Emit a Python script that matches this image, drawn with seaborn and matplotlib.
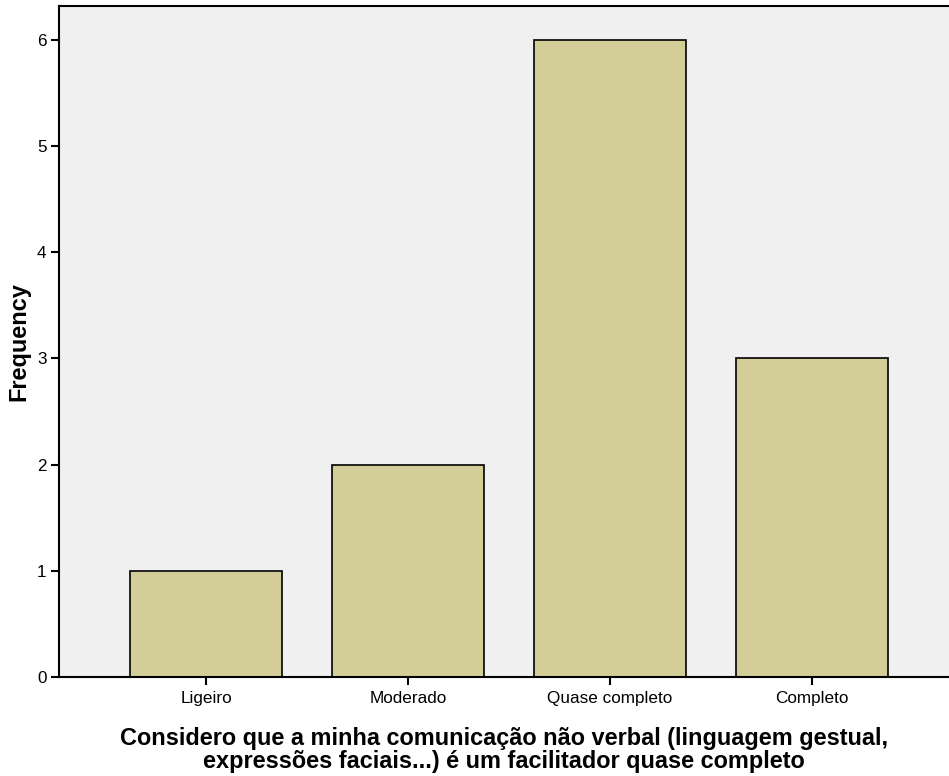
import matplotlib.pyplot as plt
import seaborn as sns
import pandas as pd

categories = ["Ligeiro", "Moderado", "Quase completo", "Completo"]
frequencies = [1, 2, 6, 3]

sns.set_theme(style="white")
plt.rcParams['font.family'] = ['Liberation Sans', 'DejaVu Sans']
plt.rcParams['text.color'] = 'black'
plt.rcParams['axes.labelcolor'] = 'black'

df = pd.DataFrame({"categoria": categories, "freq": frequencies})

fig = plt.figure(figsize=(9.49, 7.76), dpi=100)
ax = fig.add_axes([59 / 949, 1 - 677 / 776, 890 / 949, 671 / 776])
ax.set_facecolor("#F0F0F0")

sns.barplot(data=df, x="categoria", y="freq", order=categories,
            color="#D3CE97", saturation=1, width=0.75,
            edgecolor="black", linewidth=1.2, ax=ax)

ax.set_xlim(-0.728, 3.678)
ax.set_ylim(0, 6.32)
ax.set_yticks(range(0, 7))

ax.tick_params(axis="both", direction="out", length=6, width=1.5,
               colors="black", labelsize=12.3, pad=3, left=True, bottom=True)
ax.tick_params(axis="x", pad=4)
for side in ["left", "bottom", "top"]:
    ax.spines[side].set_color("black")
    ax.spines[side].set_linewidth(1.5)
ax.spines["right"].set_visible(False)

ax.set_ylabel("Frequency", fontsize=16.9, fontweight="bold", labelpad=5)
ax.set_xlabel("Considero que a minha comunicação não verbal (linguagem gestual,\n"
              "expressões faciais...) é um facilitador quase completo",
              fontsize=16.9, fontweight="bold", linespacing=1.0, labelpad=15)

fig.savefig("out.png", dpi=100)
